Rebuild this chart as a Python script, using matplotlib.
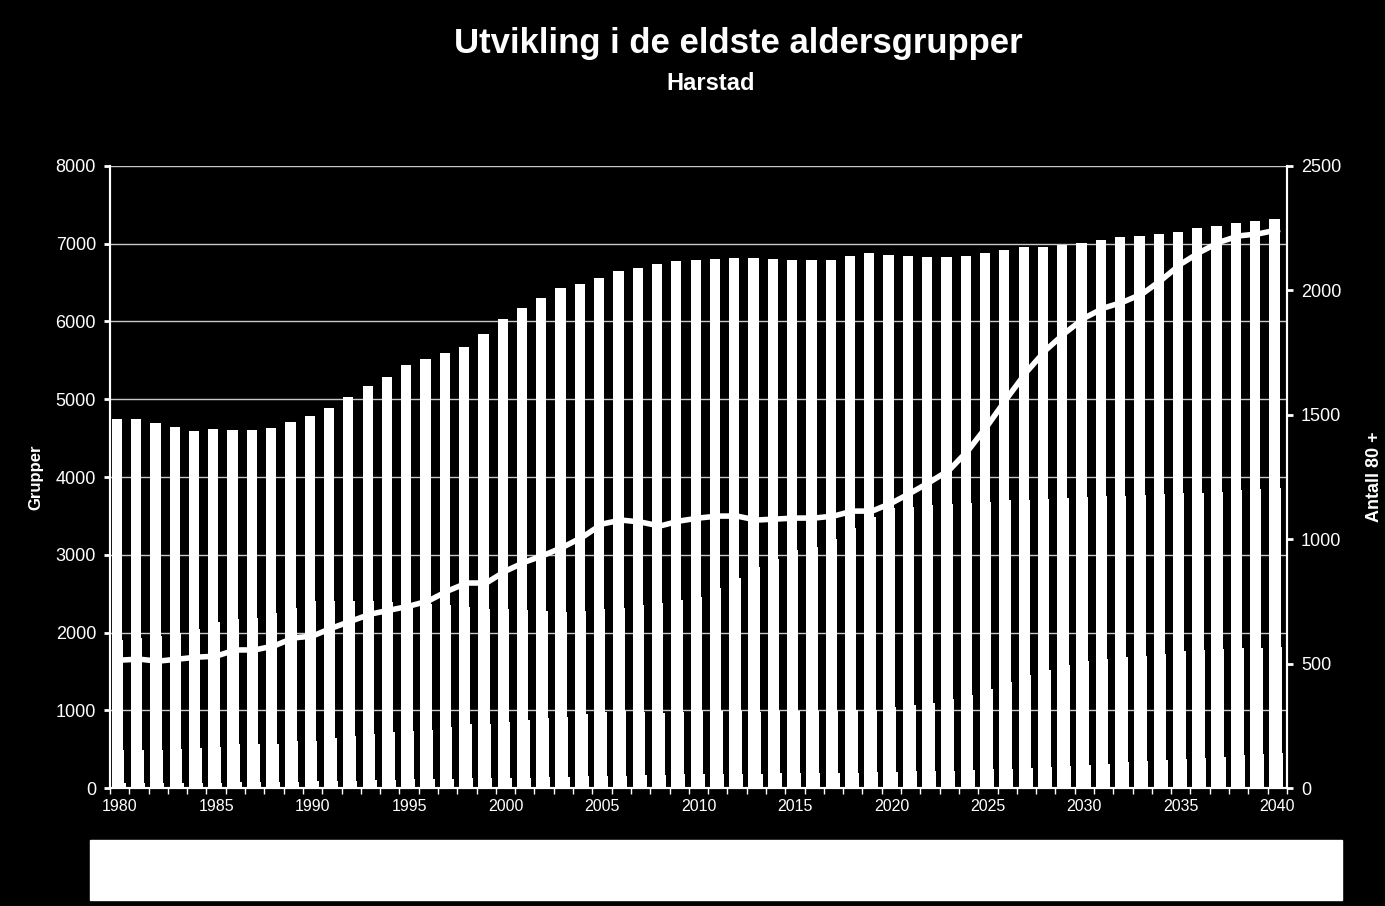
import numpy as np
import matplotlib
matplotlib.use('Agg')
import matplotlib.pyplot as plt
from matplotlib.patches import Rectangle

plt.rcParams['font.family'] = ['Liberation Sans', 'DejaVu Sans']

years = list(range(1980, 2041))

# total height of each stacked bar (left axis)
total = [4750, 4740, 4690, 4640, 4590, 4615, 4600, 4600, 4630, 4710,
         4785, 4890, 5030, 5170, 5285, 5440, 5520, 5595, 5670, 5840,
         6030, 6175, 6300, 6430, 6480, 6560, 6650, 6690, 6740, 6780,
         6790, 6805, 6815, 6815, 6805, 6790, 6790, 6790, 6840, 6880,
         6855, 6840, 6830, 6830, 6840, 6880, 6920, 6960, 6960, 6985,
         7010, 7050, 7090, 7100, 7125, 7150, 7200, 7230, 7265, 7290, 7320]

# upper edge of the 67+ part
cum_67 = [1900, 1930, 1960, 2000, 2050, 2140, 2170, 2190, 2250, 2320,
          2400, 2400, 2410, 2400, 2390, 2380, 2370, 2350, 2330, 2300,
          2300, 2290, 2280, 2270, 2280, 2300, 2320, 2350, 2380, 2420,
          2460, 2570, 2700, 2840, 2950, 3060, 3100, 3200, 3350, 3480,
          3600, 3620, 3640, 3650, 3660, 3680, 3700, 3710, 3720, 3730,
          3740, 3750, 3760, 3770, 3780, 3790, 3800, 3810, 3830, 3845, 3860]

# upper edge of the 80+ part
cum_80 = [490, 495, 490, 500, 510, 530, 560, 565, 570, 600,
          610, 640, 670, 700, 715, 730, 750, 790, 820, 820,
          850, 880, 900, 920, 950, 980, 990, 980, 970, 980,
          990, 995, 995, 980, 985, 990, 990, 995, 1010, 1010,
          1040, 1070, 1100, 1140, 1200, 1280, 1370, 1450, 1520, 1580,
          1630, 1660, 1680, 1700, 1730, 1760, 1780, 1790, 1800, 1800, 1810]

# 90+ part
cum_90 = [60, 62, 64, 66, 68, 70, 72, 75, 78, 82,
          88, 92, 96, 100, 105, 110, 115, 120, 125, 128,
          130, 135, 140, 145, 150, 155, 160, 165, 170, 175,
          180, 182, 184, 186, 188, 190, 192, 195, 198, 200,
          210, 215, 220, 225, 230, 240, 250, 260, 270, 280,
          300, 315, 330, 345, 360, 375, 390, 405, 420, 435, 450]

# antall 80+ (right axis)
antall80 = [514, 518, 510, 518, 526, 530, 555, 555, 571, 603,
            611, 643, 671, 699, 715, 731, 752, 792, 824, 824,
            872, 908, 936, 969, 1009, 1061, 1077, 1069, 1053, 1073,
            1085, 1093, 1093, 1077, 1081, 1085, 1085, 1093, 1113, 1113,
            1145, 1186, 1230, 1278, 1359, 1459, 1568, 1672, 1760, 1829,
            1889, 1929, 1953, 1986, 2042, 2106, 2154, 2194, 2219, 2227, 2243]

x = np.arange(len(years))

fig = plt.figure(figsize=(13.85, 9.06), dpi=100, facecolor='black')
ax = fig.add_axes([0.0794, 0.1302, 0.8498, 0.6866])
ax.set_facecolor('black')

# bars: each level drawn from zero, lower levels slightly wider
left = x - 0.41
for vals, w in [(total, 0.53), (cum_67, 0.59), (cum_80, 0.66), (cum_90, 0.73)]:
    ax.bar(left, vals, width=w, align='edge', color='white', linewidth=0, zorder=2)

ax.set_ylim(0, 8000)
ax.set_xlim(-0.5, len(years) - 0.5)
ax.set_yticks(range(0, 8001, 1000))
ax.yaxis.grid(True, color='#c8c8c8', linewidth=1)
ax.set_axisbelow(True)

ax.set_xticks(x[::5])
ax.set_xticklabels([str(y) for y in years[::5]], fontsize=11.5, color='white')
ax.set_xticks(np.arange(-0.5, len(years), 1), minor=True)
ax.tick_params(axis='x', which='major', length=0, pad=8)
ax.tick_params(axis='x', which='minor', length=4, color='white', width=1)
ax.tick_params(axis='y', colors='white', labelsize=13, length=4, width=2, pad=6)

ax.spines['top'].set_visible(False)
for s in ['left', 'right', 'bottom']:
    ax.spines[s].set_color('white')
    ax.spines[s].set_linewidth(1.5)

ax.set_ylabel('Grupper', color='white', fontsize=12, fontweight='bold', labelpad=9)

ax2 = ax.twinx()
ax2.plot(x, antall80, color='white', linewidth=4, zorder=5)
ax2.set_ylim(0, 2500)
ax2.set_yticks(range(0, 2501, 500))
ax2.tick_params(axis='y', colors='white', labelsize=13, length=4, width=2, pad=6)
ax2.spines['top'].set_visible(False)
for s in ['left', 'right', 'bottom']:
    ax2.spines[s].set_color('white')
    ax2.spines[s].set_linewidth(1.5)
ax2.set_ylabel('Antall 80 +', color='white', fontsize=13, fontweight='bold', labelpad=18)

fig.text(0.533, 0.952, 'Utvikling i de eldste aldersgrupper', ha='center', va='center',
         color='white', fontsize=25, fontweight='bold')
fig.text(0.513, 0.908, 'Harstad', ha='center', va='center',
         color='white', fontsize=17, fontweight='bold')

# empty legend box
fig.patches.append(Rectangle((0.065, 0.0066), 0.904, 0.0662, transform=fig.transFigure,
                             facecolor='white', edgecolor='white'))

fig.savefig('out.png', dpi=100, facecolor='black')
